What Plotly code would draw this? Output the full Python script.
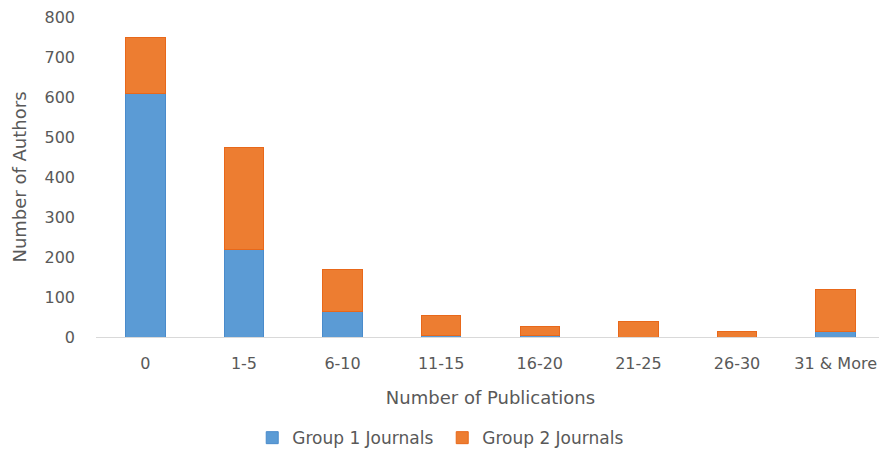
import plotly.graph_objects as go

categories = ["0", "1-5", "6-10", "11-15", "16-20", "21-25", "26-30", "31 & More"]
group1 = [610, 218, 63, 5, 5, 0, 0, 13]
group2 = [140, 256, 107, 48, 21, 40, 14, 106]
y_ticks = [0, 100, 200, 300, 400, 500, 600, 700, 800]

FONT = "DejaVu Sans"
GRAY = "#595959"

fig = go.Figure()
fig.add_trace(go.Bar(x=categories, y=group1, name="Group 1 Journals",
                     marker=dict(color="#5B9BD5", line=dict(color="#4A8BCB", width=1))))
fig.add_trace(go.Bar(x=categories, y=group2, name="Group 2 Journals",
                     marker=dict(color="#ED7D31", line=dict(color="#E8681A", width=1))))

# page body has an 8px default margin, so the figure is sized to fit the 887x451 window
fig.update_layout(
    barmode="stack",
    bargap=0.6,
    width=879, height=443,
    margin=dict(l=88, r=2, t=9, b=114, autoexpand=False),
    plot_bgcolor="white", paper_bgcolor="white",
    font=dict(family=FONT, size=16, color=GRAY),
    showlegend=True,
    legend=dict(orientation="h", x=0.198, xanchor="left", xref="paper",
                y=-0.316, yanchor="middle", font=dict(size=17, color=GRAY),
                traceorder="normal", entrywidth=145, entrywidthmode="pixels"),
    xaxis=dict(title=dict(text="Number of Publications", font=dict(size=18, color=GRAY), standoff=19),
               showgrid=False, showline=True, linecolor="#D9D9D9", linewidth=1,
               ticks="", ticklabelstandoff=12, tickfont=dict(size=16, color=GRAY),
               automargin=False, ticklabeloverflow="allow"),
    yaxis=dict(title=dict(text="Number of Authors", font=dict(size=18, color=GRAY), standoff=13),
               range=[0, 800], tickvals=y_ticks, showgrid=False, zeroline=False,
               showline=False, ticks="", ticklabelstandoff=20,
               tickfont=dict(size=16, color=GRAY), automargin=False,
               ticklabeloverflow="allow"),
)

fig.write_html("out.html")
